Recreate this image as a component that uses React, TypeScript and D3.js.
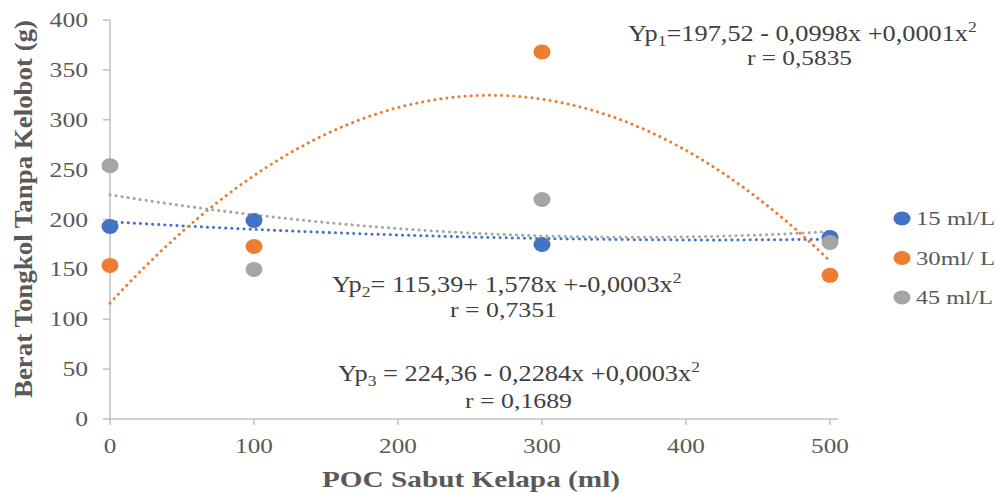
import React from "react";
import { scaleLinear, line, range } from "d3";

const doses = [0, 100, 300, 500];
const series15 = [193, 199, 175, 182];
const series30 = [154, 173, 368, 144];
const series45 = [254, 150, 220, 177];
const seriesNames = ["15 ml/L", "30ml/ L", "45 ml/L"];
const seriesColors = ["#4472C4", "#ED7D31", "#A5A5A5"];
const xTicks = [0, 100, 200, 300, 400, 500];
const yTicks = [0, 50, 100, 150, 200, 250, 300, 350, 400];

// quadratic least squares, like the spreadsheet trendline
function polyFit(xs: number[], ys: number[]) {
  const s = (p: number, q: number) =>
    xs.reduce((acc, x, i) => acc + Math.pow(x, p) * Math.pow(ys[i], q), 0);
  const A = [
    [s(0, 0), s(1, 0), s(2, 0), s(0, 1)],
    [s(1, 0), s(2, 0), s(3, 0), s(1, 1)],
    [s(2, 0), s(3, 0), s(4, 0), s(2, 1)],
  ];
  for (let c = 0; c < 3; c++) {
    for (let r = c + 1; r < 3; r++) {
      const f = A[r][c] / A[c][c];
      for (let k = c; k < 4; k++) A[r][k] -= f * A[c][k];
    }
  }
  const b = [0, 0, 0];
  for (let r = 2; r >= 0; r--) {
    let v = A[r][3];
    for (let k = r + 1; k < 3; k++) v -= A[r][k] * b[k];
    b[r] = v / A[r][r];
  }
  return (x: number) => b[0] + b[1] * x + b[2] * x * x;
}

const serif = "'Liberation Serif', 'Times New Roman', serif";
const textColor = "#595959";
const eqColor = "#404040";

function Eq({ x, y, sub, body }: any) {
  return (
    <g transform={"translate(" + x + "," + y + ") scale(1.17,1)"}>
      <text x={0} y={0} fontFamily={serif} fontSize={22.5} fill={eqColor}>
        Yp
        <tspan fontSize={15} dy={5}>{sub}</tspan>
        <tspan dy={-5}>{body}</tspan>
        <tspan fontSize={15} dy={-9}>2</tspan>
      </text>
    </g>
  );
}

function RLine({ x, y, w, label }: any) {
  return (
    <text x={x} y={y} fontFamily={serif} fontSize={22} fill={eqColor} textLength={w} lengthAdjust="spacingAndGlyphs">
      {label}
    </text>
  );
}

export default function App() {
  const x = scaleLinear().domain([0, 500]).range([110, 830]);
  const y = scaleLinear().domain([0, 400]).range([419, 20]);
  const allSeries = [series15, series30, series45];
  const samples = range(0, 501, 5);

  return (
    <svg width={1001} height={493} style={{ position: "absolute", left: 0, top: 0, background: "white" }}>
      {/* axes */}
      <line x1={110} x2={838} y1={y(0)} y2={y(0)} stroke="#BFBFBF" strokeWidth={1.5} />
      <line x1={110} x2={110} y1={y(400)} y2={y(0)} stroke="#BFBFBF" strokeWidth={1.5} />
      {yTicks.map((t) => (
        <g key={"y" + t}>
          <line x1={103} x2={110} y1={y(t)} y2={y(t)} stroke="#BFBFBF" strokeWidth={1.5} />
          <g transform={"translate(88," + (y(t) + 7) + ") scale(1.25,1)"}>
            <text x={0} y={0} textAnchor="end" fontFamily={serif} fontSize={20.5} fill={textColor}>
              {t}
            </text>
          </g>
        </g>
      ))}
      {xTicks.map((t) => (
        <g key={"x" + t}>
          <line x1={x(t)} x2={x(t)} y1={y(0)} y2={y(0) + 6} stroke="#BFBFBF" strokeWidth={1.5} />
          <g transform={"translate(" + x(t) + ",453) scale(1.2,1)"}>
            <text x={0} y={0} textAnchor="middle" fontFamily={serif} fontSize={21} fill={textColor}>
              {t}
            </text>
          </g>
        </g>
      ))}
      <text
        x={322}
        y={487}
        fontFamily={serif}
        fontSize={24}
        fontWeight="bold"
        fill={textColor}
        textLength={298}
        lengthAdjust="spacingAndGlyphs"
      >
        POC Sabut Kelapa (ml)
      </text>
      <text
        transform="translate(32,398) rotate(-90)"
        x={0}
        y={0}
        fontFamily={serif}
        fontSize={25}
        fontWeight="bold"
        fill={textColor}
        textLength={378}
        lengthAdjust="spacingAndGlyphs"
      >
        Berat Tongkol Tanpa Kelobot (g)
      </text>

      {/* trendlines */}
      {allSeries.map((s, i) => {
        const f = polyFit(doses, s);
        const path = line<number>()
          .x((d) => x(d))
          .y((d) => y(f(d)))(samples);
        return (
          <path
            key={"t" + i}
            d={path || ""}
            fill="none"
            stroke={seriesColors[i]}
            strokeWidth={3}
            strokeLinecap="round"
            strokeDasharray="0.1 6"
          />
        );
      })}

      {/* points */}
      {allSeries.map((s, i) =>
        s.map((v, j) => (
          <ellipse key={"p" + i + "-" + j} cx={x(doses[j])} cy={y(v)} rx={8.5} ry={7.5} fill={seriesColors[i]} />
        ))
      )}

      {/* legend */}
      {seriesNames.map((n, i) => (
        <g key={"l" + i}>
          <ellipse cx={902} cy={218.5 + i * 39.5} rx={8.5} ry={7} fill={seriesColors[i]} />
          <text
            x={916}
            y={225 + i * 39.5}
            fontFamily={serif}
            fontSize={19}
            fill={textColor}
            textLength={i === 2 ? 77 : 79}
            lengthAdjust="spacingAndGlyphs"
          >
            {n}
          </text>
        </g>
      ))}

      {/* equations */}
      <Eq x={628} y={41} sub="1" body="=197,52 - 0,0998x +0,0001x" />
      <RLine x={747} y={65} w={105} label="r = 0,5835" />
      <Eq x={332} y={292} sub="2" body="= 115,39+ 1,578x +-0,0003x" />
      <RLine x={450} y={317} w={107} label="r = 0,7351" />
      <Eq x={338} y={381} sub="3" body=" = 224,36 - 0,2284x +0,0003x" />
      <RLine x={465} y={408} w={107} label="r = 0,1689" />
    </svg>
  );
}
